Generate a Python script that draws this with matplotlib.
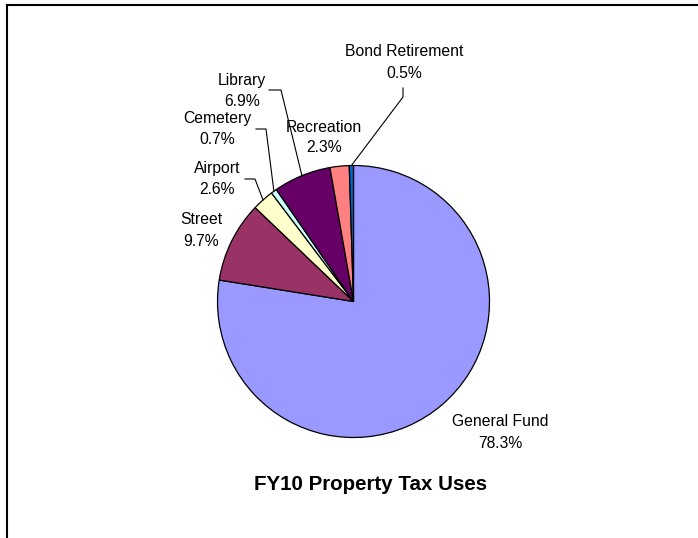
import numpy as np
import matplotlib
matplotlib.use("Agg")
import matplotlib.pyplot as plt
from matplotlib.lines import Line2D

categories = ["General Fund", "Street", "Airport", "Cemetery", "Library", "Recreation", "Bond Retirement"]
values = [78.3, 9.7, 2.6, 0.7, 6.9, 2.3, 0.5]
pct_labels = ["78.3%", "9.7%", "2.6%", "0.7%", "6.9%", "2.3%", "0.5%"]
colors = ["#9999FF", "#993366", "#FFFFCC", "#CCFFFF", "#660066", "#FF8080", "#0066CC"]
title = "FY10 Property Tax Uses"

W, H = 698, 538
fig = plt.figure(figsize=(W / 100, H / 100), dpi=100)
ax = fig.add_axes([0, 0, 1, 1])

cx, cy, R = 353.5, H - 301.5, 136
wedges, _ = ax.pie(values, colors=colors, startangle=90, counterclock=False,
                   center=(cx, cy), radius=R,
                   wedgeprops=dict(edgecolor="black", linewidth=0.9))
ax.set_xlim(0, W)
ax.set_ylim(0, H)
ax.set_aspect("equal")
ax.axis("off")

font = "Liberation Sans"
fs = 11.3
# label positions (pixel coords from top): (x center, y line1, y line2)
label_pos = {
    "General Fund": (500, 421, 443),
    "Street": (201, 220, 242),
    "Airport": (217, 169, 190),
    "Cemetery": (217, 118, 140),
    "Library": (242, 81, 102),
    "Recreation": (324, 127, 148),
    "Bond Retirement": (404, 52, 74),
}
for name, pct in zip(categories, pct_labels):
    x, y1, y2 = label_pos[name]
    ax.text(x, H - y1, name, ha="center", va="center", fontsize=fs, family=font, color="black")
    ax.text(x, H - y2, pct, ha="center", va="center", fontsize=fs, family=font, color="black")

# leader lines: (anchor, elbow) in pixel coords from top
leaders = {
    "Library": ((269, 90), (281, 90)),
    "Cemetery": ((256, 129), (266, 129)),
    "Airport": ((245, 179), (255, 179)),
    "Bond Retirement": ((403, 88), (403, 97)),
}
for w, name in zip(wedges, categories):
    if name not in leaders:
        continue
    mid = np.deg2rad((w.theta1 + w.theta2) / 2)
    ex, ey = cx + R * np.cos(mid), cy + R * np.sin(mid)
    (ax0, ay0), (bx0, by0) = leaders[name]
    ax.plot([ax0, bx0, ex], [H - ay0, H - by0, ey], color="black", linewidth=0.8)

ax.text(371, H - 484, title, ha="center", va="center", fontsize=14.8,
        fontweight="bold", family=font, color="black")

# chart frame (partially visible)
fig.add_artist(Line2D([7 / W, 1], [1 - 5 / H, 1 - 5 / H], transform=fig.transFigure,
                      color="black", linewidth=1.5))
fig.add_artist(Line2D([7 / W, 7 / W], [0, 1 - 5 / H], transform=fig.transFigure,
                      color="black", linewidth=1.5))

fig.savefig("out.png", dpi=100, facecolor="white")
